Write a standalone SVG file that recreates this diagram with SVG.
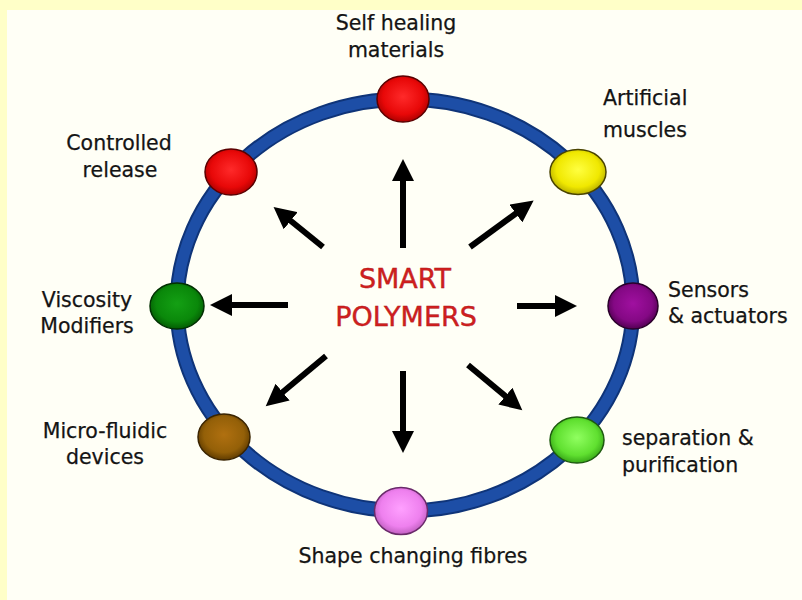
<svg xmlns="http://www.w3.org/2000/svg" width="802" height="600" viewBox="0 0 802 600">
  <defs>
    <style>
      .lbl { font-family: "DejaVu Sans", "Liberation Sans", sans-serif; font-size: 20.5px; fill: #141414; stroke: #141414; stroke-width: 0.25; }
      .title { font-family: "DejaVu Sans", "Liberation Sans", sans-serif; font-size: 27px; fill: #d01f1f; stroke: #b01515; stroke-width: 0.4; text-anchor: middle; }
      .mid { text-anchor: middle; }
      .node { stroke-width: 1.5; }
      .arrow { stroke: #000; stroke-width: 6; fill: none; marker-end: url(#head); }
    </style>
    <marker id="head" markerUnits="userSpaceOnUse" markerWidth="23" markerHeight="22" refX="6" refY="11" orient="auto">
      <path d="M0,0 L22,11 L0,22 z" fill="#000"/>
    </marker>
    <radialGradient id="gRed" cx="50%" cy="45%" r="55%">
      <stop offset="0" stop-color="#ff2a2a"/><stop offset="0.7" stop-color="#e80808"/><stop offset="1" stop-color="#b00000"/>
    </radialGradient>
    <radialGradient id="gYellow" cx="50%" cy="45%" r="55%">
      <stop offset="0" stop-color="#ffff40"/><stop offset="0.7" stop-color="#f0e800"/><stop offset="1" stop-color="#b8b000"/>
    </radialGradient>
    <radialGradient id="gGreen" cx="50%" cy="45%" r="55%">
      <stop offset="0" stop-color="#14a014"/><stop offset="0.7" stop-color="#0a880a"/><stop offset="1" stop-color="#035c03"/>
    </radialGradient>
    <radialGradient id="gPurple" cx="50%" cy="45%" r="55%">
      <stop offset="0" stop-color="#a010a0"/><stop offset="0.7" stop-color="#840884"/><stop offset="1" stop-color="#520052"/>
    </radialGradient>
    <radialGradient id="gBrown" cx="50%" cy="45%" r="55%">
      <stop offset="0" stop-color="#b07010"/><stop offset="0.7" stop-color="#946008"/><stop offset="1" stop-color="#603c00"/>
    </radialGradient>
    <radialGradient id="gLime" cx="50%" cy="45%" r="55%">
      <stop offset="0" stop-color="#90ff60"/><stop offset="0.7" stop-color="#60e030"/><stop offset="1" stop-color="#38a818"/>
    </radialGradient>
    <radialGradient id="gPink" cx="50%" cy="45%" r="55%">
      <stop offset="0" stop-color="#ffa0ff"/><stop offset="0.7" stop-color="#ee80ee"/><stop offset="1" stop-color="#c060c0"/>
    </radialGradient>
  </defs>

  <rect x="0" y="0" width="802" height="600" fill="#ffffc8"/>
  <rect x="7" y="10" width="795" height="590" fill="#fffff6"/>

  <g id="ring">
    <ellipse cx="405" cy="305" rx="228" ry="206" fill="none" stroke="#0f3478" stroke-width="15"/>
    <ellipse cx="405" cy="305" rx="228" ry="206" fill="none" stroke="#1d4ea6" stroke-width="11"/>
  </g>

  <g id="connectors">
    <line class="arrow" x1="403" y1="248" x2="403" y2="175"/>
    <line class="arrow" x1="323" y1="247" x2="286" y2="217"/>
    <line class="arrow" x1="470" y1="247" x2="520.7" y2="210"/>
    <line class="arrow" x1="288" y1="305" x2="226" y2="305"/>
    <line class="arrow" x1="517" y1="306" x2="561" y2="306"/>
    <line class="arrow" x1="326" y1="356" x2="278" y2="396"/>
    <line class="arrow" x1="403" y1="371" x2="403" y2="437"/>
    <line class="arrow" x1="468" y1="365" x2="510" y2="400"/>
  </g>

  <g id="center">
    <text class="title" x="405" y="288">SMART</text>
    <text class="title" x="406" y="326">POLYMERS</text>
  </g>

  <g id="self-healing">
    <ellipse class="node" cx="403" cy="99" rx="26" ry="23" fill="url(#gRed)" stroke="#5a0000"/>
    <text class="lbl mid" x="396" y="30">Self healing</text>
    <text class="lbl mid" x="396" y="57">materials</text>
  </g>

  <g id="artificial-muscles">
    <ellipse class="node" cx="578" cy="172" rx="28" ry="22.5" fill="url(#gYellow)" stroke="#4a4400"/>
    <text class="lbl" x="603" y="105">Artificial</text>
    <text class="lbl" x="603" y="137">muscles</text>
  </g>

  <g id="sensors">
    <ellipse class="node" cx="633" cy="306" rx="25" ry="23" fill="url(#gPurple)" stroke="#2a002a"/>
    <text class="lbl" x="668" y="297">Sensors</text>
    <text class="lbl" x="668" y="323">&amp; actuators</text>
  </g>

  <g id="separation">
    <ellipse class="node" cx="577" cy="440" rx="27" ry="23" fill="url(#gLime)" stroke="#1e5a10"/>
    <text class="lbl" x="622" y="445">separation &amp;</text>
    <text class="lbl" x="622" y="472">purification</text>
  </g>

  <g id="shape-changing">
    <ellipse class="node" cx="401" cy="511" rx="26.5" ry="23.5" fill="url(#gPink)" stroke="#6a2a6a"/>
    <text class="lbl mid" x="413" y="563">Shape changing fibres</text>
  </g>

  <g id="micro-fluidic">
    <ellipse class="node" cx="224" cy="437" rx="26" ry="23" fill="url(#gBrown)" stroke="#3a2400"/>
    <text class="lbl mid" x="105" y="438">Micro-fluidic</text>
    <text class="lbl mid" x="105" y="464">devices</text>
  </g>

  <g id="viscosity">
    <ellipse class="node" cx="177" cy="306" rx="27" ry="23" fill="url(#gGreen)" stroke="#023002"/>
    <text class="lbl mid" x="87" y="307">Viscosity</text>
    <text class="lbl mid" x="87" y="333">Modifiers</text>
  </g>

  <g id="controlled-release">
    <ellipse class="node" cx="231" cy="172" rx="26" ry="23" fill="url(#gRed)" stroke="#5a0000"/>
    <text class="lbl mid" x="119" y="150">Controlled</text>
    <text class="lbl mid" x="120" y="177">release</text>
  </g>
</svg>
